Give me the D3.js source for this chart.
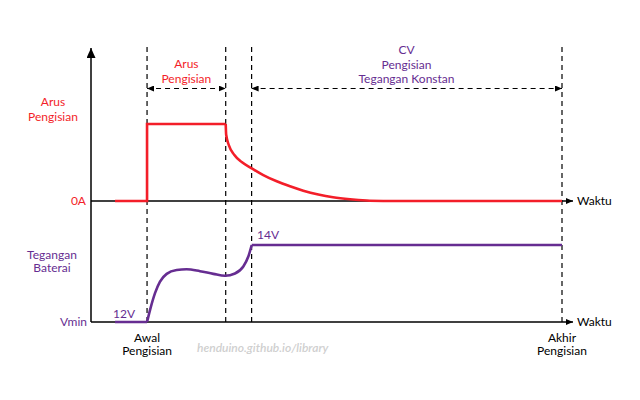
<!DOCTYPE html>
<html>
<head>
<meta charset="utf-8">
<script src="https://cdn.jsdelivr.net/npm/d3@7"></script>
<style>
html,body{margin:0;padding:0;background:#fff;}
svg{display:block;font-family:Lato,"Open Sans",sans-serif;}
</style>
</head>
<body>
<svg id="chart" width="640" height="400"></svg>
<script>
// ---- data (time in arbitrary units 0..100) ----
const phaseTimes = [11.9, 28.6, 34.1, 100];          // Awal, end CC, start CV, Akhir
const currentTimes  = [5.1, 11.9, 11.9, 28.6, 28.7, 29.3, 30.4, 32.0, 34.12, 36.58, 39.43, 42.25, 45.07, 48.26, 51.38, 54.99, 58.53, 62.0, 100];
const currentValues = [0,   0,    1,    1,    0.86, 0.72, 0.60, 0.505, 0.425, 0.337, 0.256, 0.191, 0.134, 0.084, 0.048, 0.022, 0.006, 0,    0];
const voltageTimes  = [5.1, 11.9, 12.53, 13.59, 14.65, 16.07, 18.2, 20.3, 23.14, 25.97, 28.45, 30.57, 32.34, 33.4, 34.12, 100];
const voltageValues = [12,  12,   12.31, 12.75, 13.05, 13.25, 13.35, 13.37, 13.32, 13.25, 13.20, 13.26, 13.44, 13.70, 14,  14];
const timeLabel = "Waktu";

const RED = "#f31e29", PURPLE = "#662d91";
const svg = d3.select("#chart");
const x = d3.scaleLinear().domain([0, 100]).range([91, 562]);
const yI = d3.scaleLinear().domain([0, 1]).range([201, 124]);
const yV = d3.scaleLinear().domain([12, 14]).range([322, 245]);

// arrow markers
const defs = svg.append("defs");
function marker(id, w, h){
  defs.append("marker").attr("id", id).attr("viewBox", `0 0 ${w} ${h}`)
    .attr("refX", w).attr("refY", h/2).attr("markerWidth", w).attr("markerHeight", h)
    .attr("markerUnits", "userSpaceOnUse").attr("orient", "auto-start-reverse")
    .append("path").attr("d", `M0,0L${w},${h/2}L0,${h}Z`).attr("fill", "#000");
}
marker("bigArrow", 10, 9);
marker("smallArrow", 7, 6);

// dashed phase lines
const topY = 47;
svg.selectAll(".phase").data(phaseTimes).join("line")
  .attr("x1", d => x(d)).attr("x2", d => x(d))
  .attr("y1", topY).attr("y2", yV(12))
  .attr("stroke", "#000").attr("stroke-width", 1.2).attr("stroke-dasharray", "5,4");

// horizontal dashed range arrows
const arrowY = 88.5;
const ranges = [[phaseTimes[0], phaseTimes[1]], [phaseTimes[2], phaseTimes[3]]];
svg.selectAll(".range").data(ranges).join("line")
  .attr("x1", d => x(d[0])).attr("x2", d => x(d[1]))
  .attr("y1", arrowY).attr("y2", arrowY)
  .attr("stroke", "#000").attr("stroke-width", 1.2).attr("stroke-dasharray", "5,4")
  .attr("marker-start", "url(#smallArrow)").attr("marker-end", "url(#smallArrow)");

// axes
svg.append("line").attr("x1", x(0)).attr("x2", x(0)).attr("y1", yV(12)).attr("y2", 48)
  .attr("stroke", "#000").attr("stroke-width", 1.5).attr("marker-end", "url(#bigArrow)");
[[yI(0)], [yV(12)]].forEach(([yy]) => {
  svg.append("line").attr("x1", x(0)).attr("x2", 573).attr("y1", yy).attr("y2", yy)
    .attr("stroke", "#000").attr("stroke-width", 1.5).attr("marker-end", "url(#smallArrow)");
});

// current line
const iPts = currentTimes.map((t, i) => [t, currentValues[i]]);
const lineLin = d3.line().x(d => x(d[0])).y(d => yI(d[1]));
const lineCurve = d3.line().x(d => x(d[0])).y(d => yI(d[1])).curve(d3.curveMonotoneX);
svg.append("path").attr("d", lineLin(iPts.slice(0, 4)))
  .attr("fill", "none").attr("stroke", RED).attr("stroke-width", 2.6).attr("stroke-linejoin", "miter");
svg.append("path").attr("d", lineCurve(iPts.slice(3, 18)))
  .attr("fill", "none").attr("stroke", RED).attr("stroke-width", 2.6);
svg.append("path").attr("d", lineLin(iPts.slice(17)))
  .attr("fill", "none").attr("stroke", RED).attr("stroke-width", 2.6);

// voltage line
const vPts = voltageTimes.map((t, i) => [t, voltageValues[i]]);
const vLin = d3.line().x(d => x(d[0])).y(d => yV(d[1]));
const vCurve = d3.line().x(d => x(d[0])).y(d => yV(d[1])).curve(d3.curveMonotoneX);
svg.append("path").attr("d", vLin(vPts.slice(0, 2)))
  .attr("fill", "none").attr("stroke", PURPLE).attr("stroke-width", 2.6);
svg.append("path").attr("d", vCurve(vPts.slice(1, 15)))
  .attr("fill", "none").attr("stroke", PURPLE).attr("stroke-width", 2.6);
svg.append("path").attr("d", vLin(vPts.slice(14)))
  .attr("fill", "none").attr("stroke", PURPLE).attr("stroke-width", 2.6);

// text helper
function label(lines, cx, y0, color, anchor = "middle", lh = 14.5, extra = {}){
  const t = svg.append("text").attr("text-anchor", anchor).attr("fill", color)
    .attr("font-size", 12);
  Object.entries(extra).forEach(([k, v]) => t.attr(k, v));
  lines.forEach((s, i) => t.append("tspan").attr("x", cx).attr("y", y0 + i * lh).text(s));
}
label(["Arus", "Pengisian"], (x(phaseTimes[0]) + x(phaseTimes[1])) / 2, 68, RED);
label(["CV", "Pengisian", "Tegangan Konstan"], 406.5, 54, PURPLE);
label(["Arus", "Pengisian"], 53, 106, RED);
label(["Tegangan", "Baterai"], 52, 258.5, PURPLE, "middle", 13.5);
label(["0A"], 86, 205, RED, "end");
label(["Vmin"], 87, 326, PURPLE, "end");
label(["12V"], 113, 318, PURPLE, "start");
label(["14V"], 257, 239, PURPLE, "start");
label([timeLabel], 577, 205, "#000", "start");
label([timeLabel], 577, 326, "#000", "start");
label(["Awal", "Pengisian"], x(phaseTimes[0]), 341.5, "#000", "middle", 13.5);
label(["Akhir", "Pengisian"], x(phaseTimes[3]), 341.5, "#000", "middle", 13.5);
label(["henduino.github.io/library"], 197, 352, "#cfcfcf", "start", 14,
  {"font-style": "italic", "font-weight": 600});
</script>
</body>
</html>
